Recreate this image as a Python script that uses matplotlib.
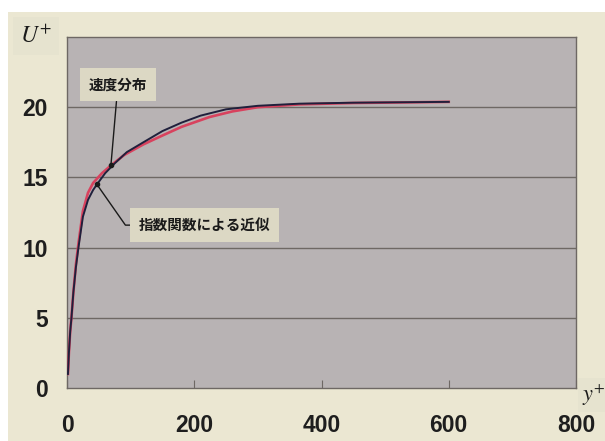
import matplotlib.pyplot as plt
from matplotlib.patches import Rectangle

plt.rcParams['mathtext.fontset'] = 'stix'

# velocity distribution (red) and exponential-function approximation (dark)
yplus_vel = [1.5, 3, 5, 7, 10, 14, 18, 25, 33, 41, 55, 69, 90, 120, 146, 180, 224, 260, 300, 365, 450, 600]
uplus_vel = [1.0, 2.5, 4.0, 5.0, 6.8, 8.8, 10.3, 12.6, 13.9, 14.6, 15.3, 15.85, 16.6, 17.35, 17.9, 18.6, 19.3, 19.7, 20.0, 20.2, 20.3, 20.38]

yplus_exp = [1.5, 3, 5, 7, 10, 14, 18, 25, 33, 41, 47, 60, 75, 94, 120, 150, 180, 210, 250, 300, 365, 450, 600]
uplus_exp = [1.0, 2.5, 4.0, 5.0, 6.8, 8.6, 10.0, 12.2, 13.4, 14.1, 14.5, 15.3, 16.0, 16.8, 17.5, 18.3, 18.9, 19.4, 19.85, 20.1, 20.25, 20.32, 20.38]

xticks = [0, 200, 400, 600, 800]
yticks = [0, 5, 10, 15, 20]

label_vel = '速度分布'
label_exp = '指数関数による近似'
jp_font = ['Noto Sans CJK JP', 'DejaVu Sans']

fig = plt.figure(figsize=(6.05, 4.41), dpi=100, facecolor='white')
fig.patches.append(Rectangle((8 / 605, 0), 1, 1 - 12 / 441, transform=fig.transFigure,
                             facecolor='#ebe7d2', edgecolor='none', zorder=-10))

ax = fig.add_axes([67 / 605, 53 / 441, 509 / 605, 351 / 441])
ax.set_facecolor('#b8b3b4')
ax.set_xlim(0, 800)
ax.set_ylim(0, 25)

for v in yticks[1:]:
    ax.axhline(v, color='#6e6864', lw=1.0, zorder=1)

ax.plot(yplus_vel, uplus_vel, color='#d8425e', lw=1.9, zorder=3)
ax.plot(yplus_exp, uplus_exp, color='#20203c', lw=1.4, zorder=4)

for s in ax.spines.values():
    s.set_color('#6e6864')
    s.set_linewidth(1.0)

ax.set_xticks(xticks)
ax.set_yticks(yticks)
ax.tick_params(axis='x', direction='in', length=6, color='#6e6864', pad=19)
ax.tick_params(axis='y', length=0, pad=14)
for lab in ax.get_xticklabels() + ax.get_yticklabels():
    lab.set_fontfamily('Liberation Sans')
    lab.set_fontweight('bold')
    lab.set_fontsize(16.5)
    lab.set_color('#1e1e1e')

# leader lines with labels
iv = yplus_vel.index(69)
ie = yplus_exp.index(47)
ax.annotate(label_vel, xy=(yplus_vel[iv], uplus_vel[iv]), xytext=(80, 21.6),
            ha='center', va='center', fontsize=10.5, family=jp_font, weight='bold',
            color='#1a1a1a',
            bbox=dict(boxstyle='square,pad=0.6', facecolor='#dcd8c4', edgecolor='none'),
            arrowprops=dict(arrowstyle='-', color='#1a1a1a', lw=1.0, shrinkA=0, shrinkB=0),
            zorder=5)
ax.annotate(label_exp, xy=(yplus_exp[ie], uplus_exp[ie]), xytext=(216, 11.6),
            ha='center', va='center', fontsize=10.5, family=jp_font, weight='bold',
            color='#1a1a1a',
            bbox=dict(boxstyle='square,pad=0.6', facecolor='#dcd8c4', edgecolor='none'),
            arrowprops=dict(arrowstyle='-', color='#1a1a1a', lw=1.0, shrinkA=0, shrinkB=0,
                            connectionstyle='angle,angleA=0,angleB=-55,rad=0'),
            zorder=5)
ax.plot([yplus_vel[iv], yplus_exp[ie]], [uplus_vel[iv], uplus_exp[ie]], 'o',
        color='#1a1a1a', ms=3, zorder=6)

# axis names
fig.text(36 / 605, 1 - 36 / 441, r'$U^{+}$', fontsize=17, ha='center', va='center',
         color='#1a1a1a',
         bbox=dict(boxstyle='square,pad=0.3', facecolor='#e6e3cf', edgecolor='none'))
fig.text(582 / 605, 1 - 395 / 441, r'$y^{+}$', fontsize=16, ha='left', va='center',
         color='#1a1a1a',
         bbox=dict(boxstyle='square,pad=0.2', facecolor='#e6e3cf', edgecolor='none'))

fig.savefig('out.png', dpi=100)
